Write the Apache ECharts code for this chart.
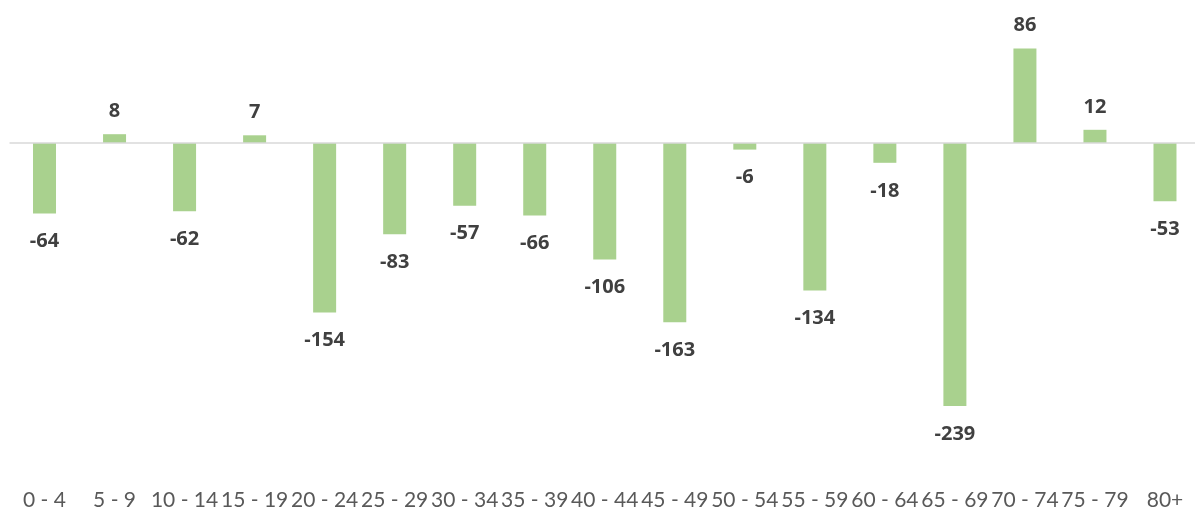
<!DOCTYPE html>
<html>
<head>
<meta charset="utf-8">
<script src="https://cdn.jsdelivr.net/npm/echarts@6/dist/echarts.min.js"></script>
<style>
  html, body { margin: 0; padding: 0; background: #fff; }
  #chart { width: 1195px; height: 511px; }
</style>
</head>
<body>
<div id="chart"></div>
<script>
const categories = ["0 - 4", "5 - 9", "10 - 14", "15 - 19", "20 - 24", "25 - 29", "30 - 34", "35 - 39", "40 - 44", "45 - 49", "50 - 54", "55 - 59", "60 - 64", "65 - 69", "70 - 74", "75 - 79", "80+"];
const values = [-64, 8, -62, 7, -154, -83, -57, -66, -106, -163, -6, -134, -18, -239, 86, 12, -53];

const BAR_COLOR = "#a9d18e";

const chart = echarts.init(document.getElementById("chart"), null, { renderer: "canvas" });

// labels above positive bars, below negative ones
const barData = values.map((v) => ({
  value: v,
  label: v >= 0 ? { position: "top", distance: 13 } : { position: "bottom", distance: 18 },
}));

chart.setOption({
  animation: false,
  grid: { left: 9.5, width: 1190.5, top: 33, height: 440, outerBoundsMode: "none" },
  xAxis: {
    type: "category",
    data: categories,
    axisLine: { show: false, onZero: false },
    axisTick: { show: false },
    axisLabel: {
      margin: 17,
      color: "#595959",
      fontSize: 21,
      fontFamily: "Lato",
      interval: 0,
    },
  },
  yAxis: {
    type: "value",
    min: -300,
    max: 100,
    show: false,
    splitLine: { show: false },
  },
  series: [
    {
      type: "bar",
      data: barData,
      barWidth: 23,
      itemStyle: { color: BAR_COLOR },
      label: {
        show: true,
        color: "#404040",
        fontSize: 20,
        fontWeight: "bold",
        fontFamily: "Open Sans",
      },
      markLine: {
        silent: true,
        symbol: "none",
        label: { show: false },
        lineStyle: { color: "#d9d9d9", width: 1.5, type: "solid" },
        data: [{ yAxis: 0 }],
      },
    },
  ],
});
</script>
</body>
</html>
